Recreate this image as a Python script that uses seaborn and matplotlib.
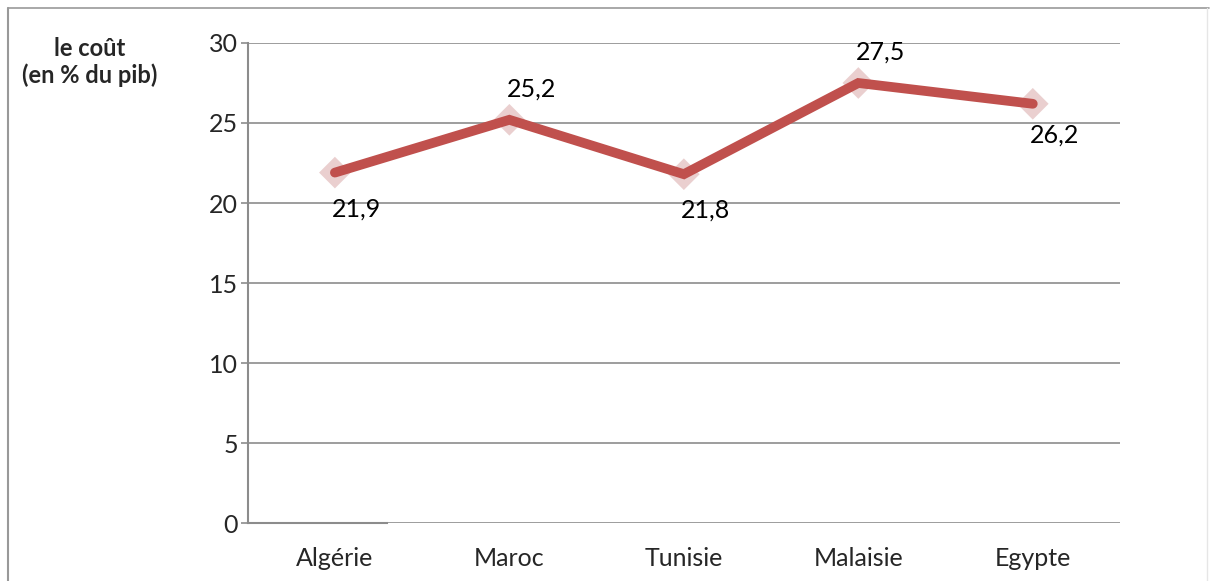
import matplotlib.pyplot as plt
import matplotlib.lines as mlines
import seaborn as sns
import pandas as pd

# data
pays = ["Algérie", "Maroc", "Tunisie", "Malaisie", "Egypte"]
cout = [21.9, 25.2, 21.8, 27.5, 26.2]
etiquettes = ["21,9", "25,2", "21,8", "27,5", "26,2"]
cote = ["below", "above", "below", "above", "below"]

sns.set_style("white")
plt.rcParams['font.family'] = ['Lato', 'DejaVu Sans']

df = pd.DataFrame({"pays": pays, "cout": cout})
pos = list(range(len(pays)))

fig = plt.figure(figsize=(12.14, 5.81), dpi=100)
ax = fig.add_axes([0.204, 0.0998, 0.7186, 0.8262])

# shadow-like diamond markers behind the line
sns.scatterplot(x=pos, y=cout, marker='D', s=260, color='#d9a9a9', alpha=0.55,
                edgecolor='none', ax=ax, zorder=2)
sns.lineplot(x=pos, y=cout, color='#c0504d', linewidth=7, ax=ax, zorder=3,
             solid_capstyle='round', solid_joinstyle='miter')

for i, (v, lab, c) in enumerate(zip(cout, etiquettes, cote)):
    if c == "above":
        dy = 31
    else:
        dy = -36 if v < 24 else -31
    ax.annotate(lab, (i, v), xytext=(22 / 1.389, dy / 1.389), textcoords='offset points',
                ha='center', va='center', fontsize=18, color='black')

ax.set_xlim(-0.5, 4.5)
ax.set_ylim(0, 30)
ax.set_yticks([0, 5, 10, 15, 20, 25, 30])
ax.grid(axis='y', color='#8c8c8c', linewidth=1.2)
ax.set_axisbelow(True)

ax.set_xticks(pos)
ax.set_xticklabels(pays, fontsize=18)
ax.set_xticks([0.5, 1.5, 2.5, 3.5, 4.5], minor=True)
ax.tick_params(axis='x', which='major', length=0, pad=17)
ax.tick_params(axis='x', which='minor', length=6, width=1.2, color='#8c8c8c', direction='out')
ax.tick_params(axis='y', length=5, width=1.2, color='#8c8c8c', labelsize=18, pad=2, left=True)

for s in ['top', 'right']:
    ax.spines[s].set_visible(False)
ax.spines['left'].set_color('#8c8c8c')
ax.spines['left'].set_linewidth(1.5)
ax.spines['bottom'].set_color('#8c8c8c')
ax.spines['bottom'].set_linewidth(1.5)
ax.spines['bottom'].set_bounds(-0.5, 0.3)
ax.set_xlabel("")
ax.set_ylabel("")

fig.text(0.074, 0.893, "le coût\n(en % du pib)", ha='center', va='center',
         fontsize=17, fontweight='bold', linespacing=1.15)

# outer frame
fig.add_artist(mlines.Line2D([0.0066, 0.0066], [0, 0.986], color='#999999', lw=1.5, transform=fig.transFigure))
fig.add_artist(mlines.Line2D([0.0066, 0.996], [0.986, 0.986], color='#999999', lw=1.2, transform=fig.transFigure))
fig.add_artist(mlines.Line2D([0.9945, 0.9945], [0, 0.986], color='#e6e6e6', lw=1.0, transform=fig.transFigure))

fig.savefig("out.png", dpi=100)
